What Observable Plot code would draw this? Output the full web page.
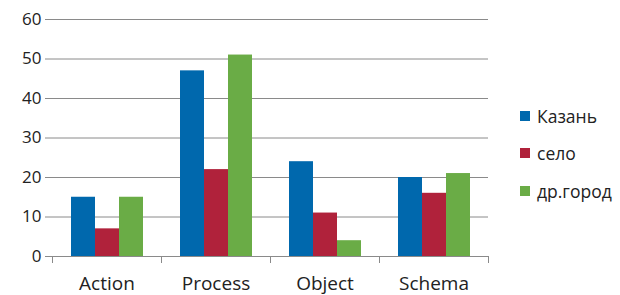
<!DOCTYPE html>
<html>
<head>
<meta charset="utf-8">
<script src="https://cdn.jsdelivr.net/npm/d3@7"></script>
<script src="https://cdn.jsdelivr.net/npm/@observablehq/plot@0.6"></script>
<style>
  html, body { margin: 0; padding: 0; background: #fff; }
  #wrap { position: relative; width: 620px; height: 295px; font-family: "Open Sans", sans-serif; }
  #legend { position: absolute; left: 520px; top: 97px; }
  .item { display: flex; align-items: center; height: 37.5px; font-size: 17.5px; color: #222; }
  .sw { width: 10px; height: 10px; margin-right: 7px; }
</style>
</head>
<body>
<div id="wrap"><div id="chart"></div><div id="legend"></div></div>
<script>
const categories = ["Action", "Process", "Object", "Schema"];
const series = ["Казань", "село", "др.город"];
const kazan = [15, 47, 24, 20];
const selo = [7, 22, 11, 16];
const drgorod = [15, 51, 4, 21];
const colors = ["#0068ad", "#b0223b", "#6aac46"];
const yTicks = [0, 10, 20, 30, 40, 50, 60];

const values = [kazan, selo, drgorod];
const data = categories.flatMap((c, i) => series.map((s, j) => ({category: c, series: s, value: values[j][i]})));

const grey = "#8a8a8a";
const chart = Plot.plot({
  width: 620, height: 295,
  marginLeft: 51, marginRight: 132, marginTop: 19, marginBottom: 39,
  style: {fontFamily: "'Open Sans', sans-serif", fontSize: "15px", color: "#222", background: "transparent", overflow: "visible"},
  fx: {domain: categories, padding: 0, label: null, axis: null},
  x: {domain: series, axis: null, paddingInner: 0, paddingOuter: 0.74},
  y: {domain: [0, 60], axis: null},
  color: {domain: series, range: colors},
  marks: [
    Plot.gridY(yTicks, {stroke: grey, strokeOpacity: 1}),
    Plot.axisY(yTicks, {tickSize: 7, tickPadding: 4, stroke: grey, fill: "#222", fontSize: 17, label: null, line: true}),
    Plot.barY(data, {fx: "category", x: "series", y: "value", fill: "series"}),
    Plot.ruleY([0], {stroke: grey}),
    Plot.frame({anchor: "left", stroke: grey, insetTop: 237, insetBottom: -6}),
    Plot.frame({anchor: "right", stroke: grey, insetTop: 237, insetBottom: -6}),
    Plot.axisFx({anchor: "bottom", tickSize: 0, tickPadding: 20, fontSize: 19, fill: "#222", label: null})
  ]
});
document.getElementById("chart").appendChild(chart);

const legend = document.getElementById("legend");
series.forEach((s, i) => {
  const row = document.createElement("div");
  row.className = "item";
  const sw = document.createElement("span");
  sw.className = "sw";
  sw.style.background = colors[i];
  row.appendChild(sw);
  row.appendChild(document.createTextNode(s));
  legend.appendChild(row);
});
</script>
</body>
</html>
